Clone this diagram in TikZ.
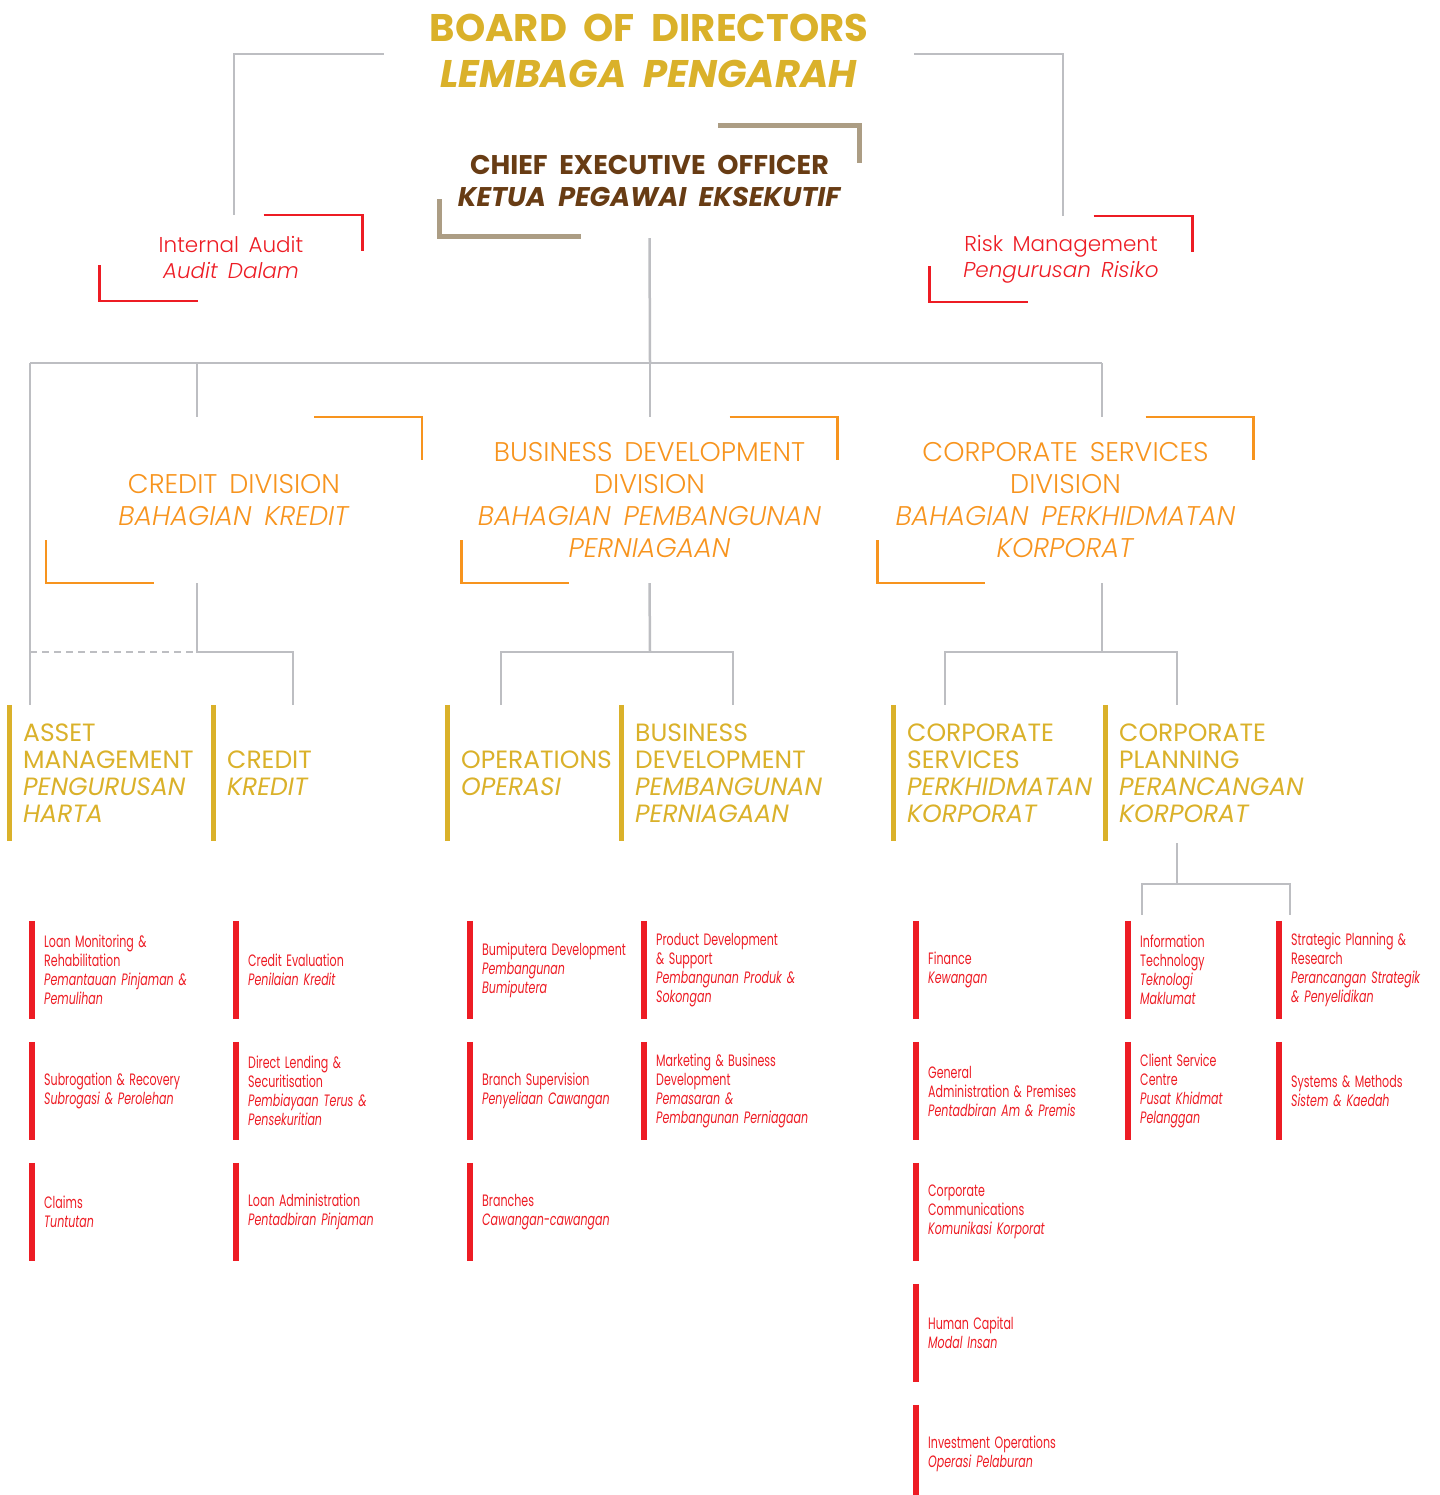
\documentclass[tikz,border=0pt]{standalone}
\usepackage{fontspec}
\setmainfont{Poppins}
\newfontfamily\boardfont{Poppins}
\IfFontExistsTF{Poppins Light Italic}
  {\newfontfamily\divfont[WordSpace=1.6, ItalicFont={Poppins Light Italic}]{Poppins Light}}
  {\newfontfamily\divfont[WordSpace=1.6]{Poppins}}
\newfontfamily\deptfont{Poppins}
\newfontfamily\unitfont[WordSpace=1.5, FakeStretch=0.67]{Poppins}
\newcommand{\wide}{\hspace{0.22em}}
\usepackage{tikz}
\usepackage{xcolor}
\usetikzlibrary{calc}

\definecolor{boardgold}{RGB}{218,177,42}
\definecolor{ceobrown}{RGB}{104,60,20}
\definecolor{ceotan}{RGB}{172,157,132}
\definecolor{linegray}{RGB}{189,190,194}
\definecolor{divorange}{RGB}{247,148,30}
\definecolor{unitred}{RGB}{237,28,36}

\begin{document}
\begin{tikzpicture}[x=1pt, y=-1pt,
    link/.style={draw=linegray, line width=2.5pt},
    board/.style={text=boardgold, font=\boardfont\bfseries\fontsize{38.5}{46}\selectfont, align=center, inner sep=0, minimum width=530},
    ceobox/.style={text=ceobrown, font=\boardfont\bfseries\fontsize{27}{32}\selectfont, align=center, inner sep=0, minimum width=419, minimum height=110},
    audit/.style={text=unitred, font=\divfont\fontsize{21.5}{26}\selectfont, align=center, inner sep=0, minimum width=263, minimum height=86},
    division/.style={text=divorange, font=\divfont\fontsize{27}{32}\selectfont, align=center, inner sep=0, minimum width=376, minimum height=166},
    dept/.style={text=boardgold, font=\deptfont\fontsize{25}{27}\selectfont, align=left, anchor=west, inner sep=0, minimum height=136},
    unit/.style={text=unitred, font=\unitfont\fontsize{16.5}{19}\selectfont, align=left, anchor=west, inner sep=0, minimum height=98}]
\useasboundingbox (0,0) rectangle (1439,1495);

\node[board] (bod) at (649,51) {BOARD \wide OF \wide DIRECTORS\\\textit{LEMBAGA \wide PENGARAH}};
\node[ceobox] (ceo) at (649.5,181) {CHIEF \wide EXECUTIVE \wide OFFICER\\\textit{KETUA \wide PEGAWAI \wide EKSEKUTIF}};
\node[audit] (ia) at (231,258) {Internal Audit\\\textit{Audit Dalam}};
\node[audit] (rm) at (1061,259) {Risk Management\\\textit{Pengurusan Risiko}};

\node[division] (cd) at (234,500) {CREDIT DIVISION\\\textit{BAHAGIAN KREDIT}};
\node[division] (bd) at (649.5,500) {BUSINESS DEVELOPMENT\\DIVISION\\\textit{BAHAGIAN PEMBANGUNAN}\\\textit{PERNIAGAAN}};
\node[division] (cs) at (1065.5,500) {CORPORATE SERVICES\\DIVISION\\\textit{BAHAGIAN PERKHIDMATAN}\\\textit{KORPORAT}};

\node[dept] (am) at (23,773) {ASSET\\MANAGEMENT\\\textit{PENGURUSAN}\\\textit{HARTA}};
\node[dept] (cr) at (227,773) {CREDIT\\\textit{KREDIT}};
\node[dept] (op) at (461,773) {OPERATIONS\\\textit{OPERASI}};
\node[dept] (bdv) at (635,773) {BUSINESS\\DEVELOPMENT\\\textit{PEMBANGUNAN}\\\textit{PERNIAGAAN}};
\node[dept] (csv) at (907,773) {CORPORATE\\SERVICES\\\textit{PERKHIDMATAN}\\\textit{KORPORAT}};
\node[dept] (cp) at (1119,773) {CORPORATE\\PLANNING\\\textit{PERANCANGAN}\\\textit{KORPORAT}};

\node[unit] (lm) at (44,970) {Loan Monitoring \&\\Rehabilitation\\\textit{Pemantauan Pinjaman \&}\\\textit{Pemulihan}};
\node[unit] (sr) at (44,1091) {Subrogation \& Recovery\\\textit{Subrogasi \& Perolehan}};
\node[unit] (cl) at (44,1212) {Claims\\\textit{Tuntutan}};
\node[unit] (ce) at (248,970) {Credit Evaluation\\\textit{Penilaian Kredit}};
\node[unit] (dl) at (248,1091) {Direct Lending \&\\Securitisation\\\textit{Pembiayaan Terus \&}\\\textit{Pensekuritian}};
\node[unit] (la) at (248,1212) {Loan Administration\\\textit{Pentadbiran Pinjaman}};
\node[unit] (bu) at (482,970) {Bumiputera Development\\\textit{Pembangunan}\\\textit{Bumiputera}};
\node[unit] (bs) at (482,1091) {Branch Supervision\\\textit{Penyeliaan Cawangan}};
\node[unit] (br) at (482,1212) {Branches\\\textit{Cawangan-cawangan}};
\node[unit] (pd) at (656,970) {Product Development\\\& Support\\\textit{Pembangunan Produk \&}\\\textit{Sokongan}};
\node[unit] (mb) at (656,1091) {Marketing \& Business\\Development\\\textit{Pemasaran \&}\\\textit{Pembangunan Perniagaan}};
\node[unit] (fi) at (928,970) {Finance\\\textit{Kewangan}};
\node[unit] (ga) at (928,1091) {General\\Administration \& Premises\\\textit{Pentadbiran Am \& Premis}};
\node[unit] (cc) at (928,1212) {Corporate\\Communications\\\textit{Komunikasi Korporat}};
\node[unit] (hc) at (928,1333) {Human Capital\\\textit{Modal Insan}};
\node[unit] (io) at (928,1454) {Investment Operations\\\textit{Operasi Pelaburan}};
\node[unit] (it) at (1140,970) {Information\\Technology\\\textit{Teknologi}\\\textit{Maklumat}};
\node[unit] (csc) at (1140,1091) {Client Service\\Centre\\\textit{Pusat Khidmat}\\\textit{Pelanggan}};
\node[unit] (sp) at (1291,970) {Strategic Planning \&\\Research\\\textit{Perancangan Strategik}\\\textit{\& Penyelidikan}};
\node[unit] (sm) at (1291,1091) {Systems \& Methods\\\textit{Sistem \& Kaedah}};

\foreach \n/\c/\w/\h/\lw in {ceo/ceotan/141/37/5, ia/unitred/99/36/2.5, rm/unitred/99/36/2.5, cd/divorange/108/43/2.5, bd/divorange/108/43/2.5, cs/divorange/108/43/2.5}
  \draw[\c, line width=\lw pt]
  ($(\n.north east)+(-\w,0)$) -- (\n.north east) -- ++(0,\h)
  ($(\n.south west)+(0,-\h)$) -- (\n.south west) -- ++(\w,0);

\foreach \n in {am, cr, op, bdv, csv, cp}
  \draw[boardgold, line width=5pt] ([xshift=-13.5pt]\n.north west) -- ([xshift=-13.5pt]\n.south west);
\foreach \n in {lm, sr, cl, ce, dl, la, bu, bs, br, pd, mb, fi, ga, cc, hc, io, it, csc, sp, sm}
  \draw[unitred, line width=5.5pt] ([xshift=-12pt]\n.north west) -- ([xshift=-12pt]\n.south west);

\coordinate (spine) at (650,363);
\coordinate (amin) at (30,363);
\coordinate (cdin) at (197,363);
\coordinate (csin) at (1102,363);
\coordinate (cdfork) at (197,652);
\coordinate (bdfork) at (650,652);
\coordinate (csfork) at (1102,652);

\draw[link] ([yshift=-3pt]bod.west) -| ([xshift=3pt]ia.north);
\draw[link] ([yshift=-3pt]bod.east) -| ([xshift=2pt]rm.north);
\draw[link] ([yshift=-2pt]ceo.south) -- (spine);
\draw[link] (amin) -- (csin);
\draw[link] (cdin) -- (cdin |- cd.north);
\draw[link] (spine) -- (spine |- bd.north);
\draw[link] (csin) -- (csin |- cs.north);
\draw[link] (amin) -- (amin |- am.north);
\draw[link, dashed, dash pattern=on 7pt off 5pt] (amin |- cdfork) -- (cdfork);
\draw[link] (cdin |- cd.south) -- (cdfork) -| ($(cr.north west)+(66,0)$);
\draw[link] (bd.south) -- (bdfork);
\draw[link] ($(op.north west)+(40,0)$) |- (bdfork) -| ($(bdv.north west)+(98,0)$);
\draw[link] (csfork |- cs.south) -- (csfork);
\draw[link] ($(csv.north west)+(38,0)$) |- (csfork) -| ($(cp.north west)+(58,0)$);
\draw[link] ($(cp.south west)+(58,2)$) -- ++(0,41) coordinate (cpfork);
\draw[link] ([xshift=2pt, yshift=6pt]it.north west) |- (cpfork) -| ([xshift=-1pt, yshift=6pt]sp.north west);
\end{tikzpicture}
\end{document}
